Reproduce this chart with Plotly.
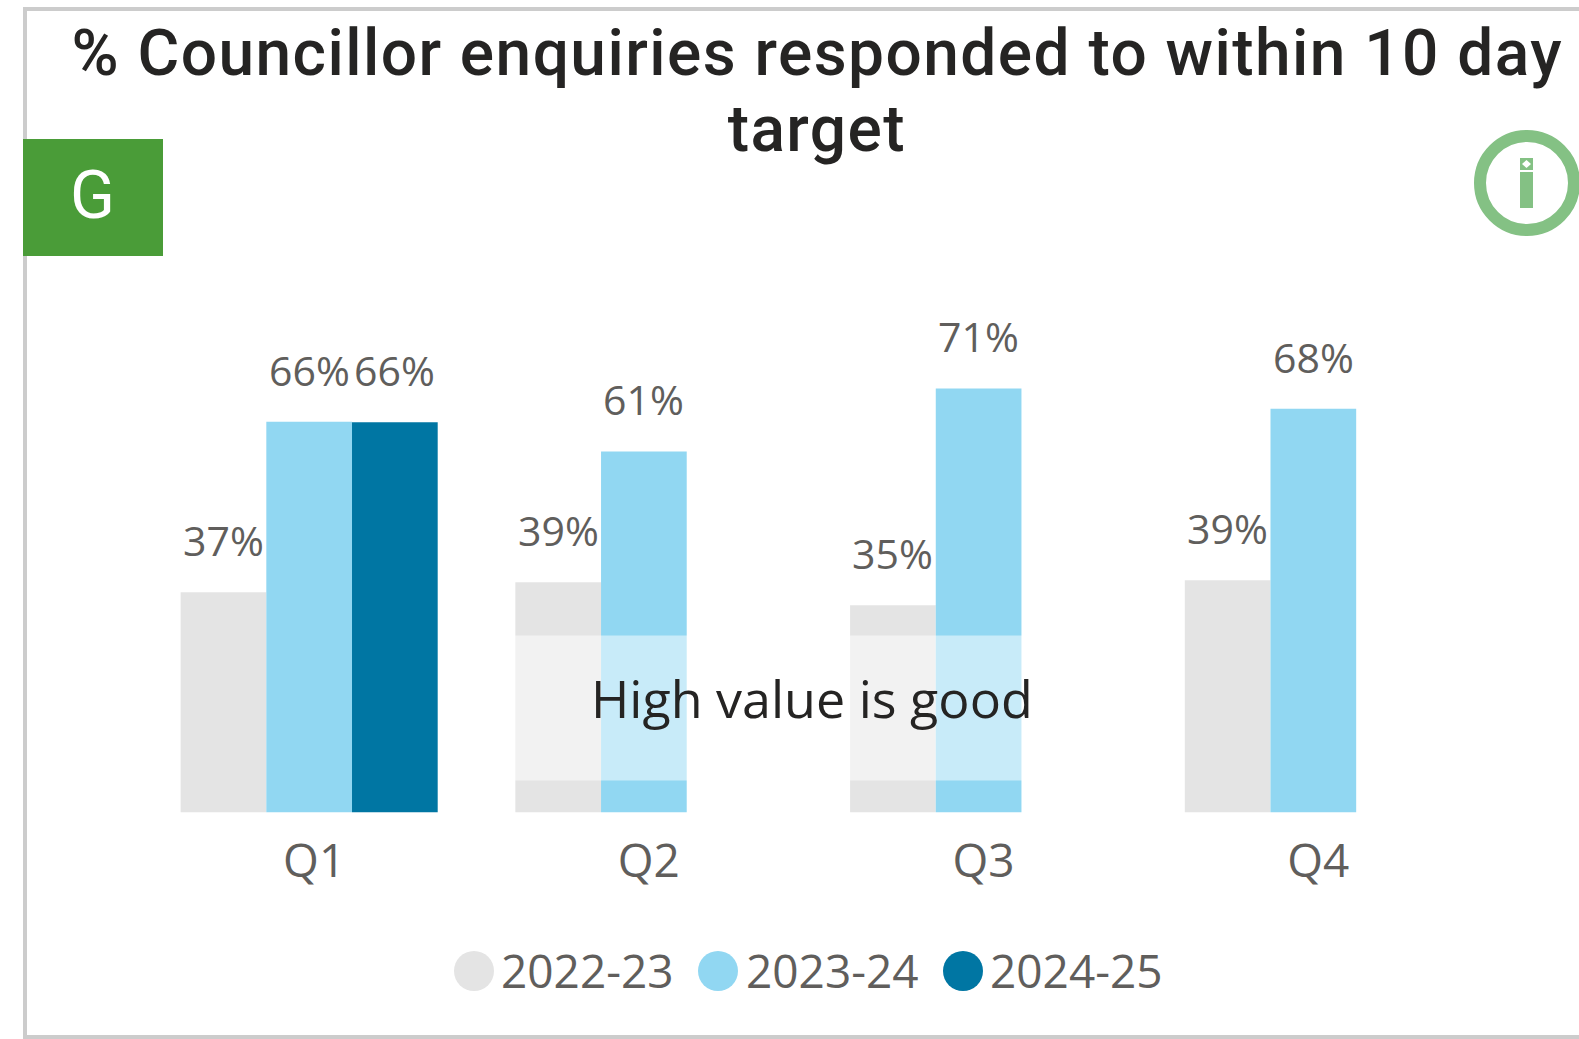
import plotly.graph_objects as go

quarters = ["Q1", "Q2", "Q3", "Q4"]
y2022 = [37.1, 38.8, 34.9, 39.1]
y2023 = [65.8, 60.8, 71.4, 68.0]
y2024 = [65.7, None, None, None]
series_names = ["2022-23", "2023-24", "2024-25"]
series_colors = ["#E4E4E4", "#91D7F2", "#0076A3"]
title_lines = ["% Councillor enquiries responded to within 10 day", "target"]

W, H = 1579, 1039
PL, PR = 141.8, 1480.7
PB, PT = 812.6, 200.0
PX_PER_PCT = 5.94
BAR_W = 85.7
GRAY = "#605E5C"
DARK = "#252423"
DIN = "Roboto"
SEGOE = "Open Sans"


def px(x):
    return x / W


def py(y):
    return 1 - y / H


fig = go.Figure()
ymax = (PB - PT) / PX_PER_PCT
all_series = [y2022, y2023, y2024]
annos = []
for i, (name, vals, col) in enumerate(zip(series_names, all_series, series_colors)):
    fig.add_bar(x=quarters, y=vals, name=name, marker=dict(color=col, line_width=0), showlegend=False)
    for q, v in zip(quarters, vals):
        if v is not None:
            annos.append(dict(x=q, y=v, xref="x", yref="y", text=f"{v:.0f}%", showarrow=False,
                              xshift=(i - 1) * BAR_W, yshift=22, xanchor="center", yanchor="bottom",
                              font=dict(family=SEGOE, size=41, color=GRAY)))


def rect(x0, y0, x1, y1, fill, layer="above"):
    return dict(type="rect", xref="paper", yref="paper", x0=px(x0), x1=px(x1), y0=py(y0), y1=py(y1),
                fillcolor=fill, line_width=0, layer=layer)


def circle(cx, cy, r, fill, line=None, lw=0):
    return dict(type="circle", xref="paper", yref="paper", x0=px(cx - r), x1=px(cx + r), y0=py(cy - r), y1=py(cy + r),
                fillcolor=fill, line=dict(color=line, width=lw) if lw else dict(width=0), layer="above")


shapes = [
    rect(23, 7, W, 11, "#CCCCCC"),
    rect(23, 7, 27, 1039, "#CCCCCC"),
    rect(23, 1035, W, 1039, "#CCCCCC"),
    rect(23, 139, 163, 256, "#4A9C38"),
    rect(490, 635.5, 1100, 780.5, "rgba(255,255,255,0.5)"),
    circle(1527, 183, 47, "rgba(0,0,0,0)", "#84C184", 12),
    rect(1520, 172, 1533, 208, "#84C184"),
    rect(1520, 158, 1533, 170, "#84C184"),
    dict(type="path", xref="paper", yref="paper",
         path=f"M {px(1526.5)} {py(160)} L {px(1531)} {py(164)} L {px(1526.5)} {py(168)} L {px(1522)} {py(164)} Z",
         fillcolor="white", line_width=0, layer="above"),
]

legend_x = [474, 718, 963]
legend_text_x = [499, 744, 988]
for name, col, cx, tx in zip(series_names, series_colors, legend_x, legend_text_x):
    shapes.append(circle(cx, 971, 20, col))
    annos.append(dict(x=px(tx), y=py(970), xref="paper", yref="paper", xanchor="left", yanchor="middle",
                      text=name, showarrow=False, font=dict(family=SEGOE, size=46, color=GRAY)))

for line, ty in zip(title_lines, [53, 129]):
    annos.append(dict(x=px(817), y=py(ty), xref="paper", yref="paper", text=line, showarrow=False,
                      xanchor="center", yanchor="middle",
                      font=dict(family=DIN, size=64, color=DARK, weight=500)))
annos += [
    dict(x=px(92), y=py(196), xref="paper", yref="paper", text="G", showarrow=False,
         xanchor="center", yanchor="middle", font=dict(family=DIN, size=66, color="white")),
    dict(x=px(812), y=py(697), xref="paper", yref="paper", text="High value is good", showarrow=False,
         xanchor="center", yanchor="middle", font=dict(family=SEGOE, size=52, color=DARK)),
]

fig.update_layout(
    width=W, height=H, autosize=False, margin=dict(l=0, r=0, t=0, b=0),
    paper_bgcolor="white", plot_bgcolor="white", barmode="group", bargap=0.232, bargroupgap=0,
    shapes=shapes, annotations=annos, showlegend=False,
    xaxis=dict(domain=[px(PL), px(PR)], type="category", categoryorder="array", categoryarray=quarters,
               showgrid=False, showline=False, zeroline=False, ticks="outside", ticklen=8,
               ticklabelshift=5, tickcolor="rgba(0,0,0,0)", tickfont=dict(family=SEGOE, size=46, color=GRAY)),
    yaxis=dict(domain=[py(PB), py(PT)], range=[0, ymax], visible=False),
)
post = """
document.body.style.margin='0';document.body.style.overflow='hidden';
document.querySelectorAll('.annotation-text').forEach(function(t){
  if(t.textContent.indexOf('Councillor')>=0||t.textContent==='target'){t.style.letterSpacing='1.45px';}
});
"""
fig.write_html("out.html", post_script=post, config={"displayModeBar": False})
